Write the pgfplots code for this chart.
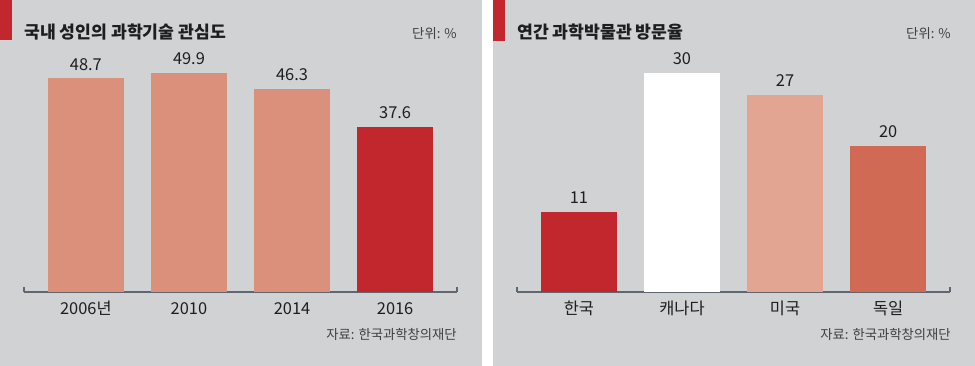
\documentclass[border=0pt]{standalone}
\usepackage{fontspec}
\setmainfont{Noto Sans CJK KR}
\usepackage{pgfplots}
\pgfplotsset{compat=1.18}
\definecolor{bg}{HTML}{D1D2D4}
\definecolor{redbar}{HTML}{C1272D}
\definecolor{salmon}{HTML}{DA907A}
\definecolor{lightsal}{HTML}{E2A591}
\definecolor{midsal}{HTML}{D16A55}
\definecolor{axisc}{HTML}{5E6770}
\definecolor{txt}{HTML}{1E1E1E}
\pgfplotsset{panel/.style={
 scale only axis, width=324.75pt, height=180.75pt, anchor=south west,
 xmin=-0.6, xmax=3.6, ymin=0,
 axis x line*=bottom, hide y axis,
 axis line style={axisc, line width=1.1pt},
 xtick={0,1,2,3}, major tick length=0pt,
 extra x ticks={-0.6,3.6}, extra x tick labels={,},
 extra x tick style={major tick length=3.75pt, tick align=inside, tick style={axisc, line width=1.1pt}},
 xticklabel style={anchor=base, yshift=-17.25pt, font=\fontsize{12.3}{14}\selectfont, text=txt},
 ybar, bar shift=0pt, bar width=0.742,
 nodes near coords,
 nodes near coords style={anchor=base, yshift=6pt, font=\fontsize{12.3}{14}\selectfont, text=txt},
 /pgf/number format/assume math mode=true,
 clip=false,
}}
\begin{document}
\begin{tikzpicture}
\begin{scope}[x=0.75pt,y=-0.75pt]
\fill[white] (0,0) rectangle (975,366);
\fill[bg] (0,0) rectangle (482,366);
\fill[bg] (493,0) rectangle (975,366);
\fill[redbar] (0,0) rectangle (12,40);
\fill[redbar] (493,0) rectangle (505,41);
\node[anchor=base west, inner sep=0, text=txt, font=\bfseries\fontsize{12.9}{15}\selectfont] at (24,39) {국내 성인의 과학기술 관심도};
\node[anchor=base east, inner sep=0, text=txt!85, font=\fontsize{10}{12}\selectfont] at (457,39) {단위: \%};
\node[anchor=base east, inner sep=0, text=txt!85, font=\fontsize{10}{12}\selectfont] at (457,340) {자료: 한국과학창의재단};
\node[anchor=base west, inner sep=0, text=txt, font=\bfseries\fontsize{12.9}{15}\selectfont] at (517,39) {연간 과학박물관 방문율};
\node[anchor=base east, inner sep=0, text=txt!85, font=\fontsize{10}{12}\selectfont] at (951,39) {단위: \%};
\node[anchor=base east, inner sep=0, text=txt!85, font=\fontsize{10}{12}\selectfont] at (951,340) {자료: 한국과학창의재단};
\end{scope}
\begin{axis}[panel, at={(18pt,-219pt)}, ymax=54.9,
  xticklabels={2006년,2010,2014,2016}]
\addplot[fill=salmon, draw=none] coordinates {(0,48.7)};
\addplot[fill=salmon, draw=none] coordinates {(1,49.9)};
\addplot[fill=salmon, draw=none] coordinates {(2,46.3)};
\addplot[fill=redbar, draw=none] coordinates {(3,37.6)};
\end{axis}
\begin{axis}[panel, at={(387.75pt,-219pt)}, ymax=33,
  xticklabels={한국,캐나다,미국,독일}]
\addplot[fill=redbar, draw=none] coordinates {(0,11)};
\addplot[fill=white, draw=none] coordinates {(1,30)};
\addplot[fill=lightsal, draw=none] coordinates {(2,27)};
\addplot[fill=midsal, draw=none] coordinates {(3,20)};
\end{axis}
\end{tikzpicture}
\end{document}
